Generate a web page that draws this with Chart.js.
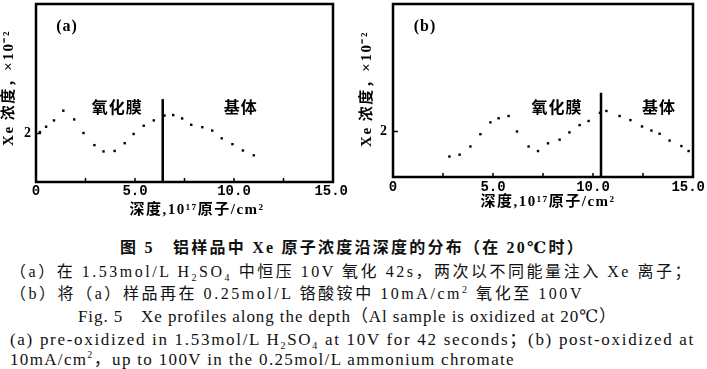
<!DOCTYPE html>
<html>
<head>
<meta charset="utf-8">
<script src="https://cdn.jsdelivr.net/npm/chart.js@4.4.0/dist/chart.umd.min.js"></script>
<style>
html, body { margin: 0; padding: 0; background: #fff; width: 707px; height: 369px; overflow: hidden; }
#wrapA { position: absolute; left: 0; top: 0; width: 350px; height: 225px; }
#wrapB { position: absolute; left: 350px; top: 0; width: 357px; height: 225px; }
.cap { position: absolute; white-space: nowrap; color: #111; line-height: 20px;
       font-family: 'Liberation Serif', 'DejaVu Serif', 'Noto Sans CJK SC', serif; font-size: 16px; }
.en { font-size: 17px; }
sub, sup { font-size: 10px; line-height: 0; }
</style>
</head>
<body>
<div id="wrapA"><canvas id="chartA"></canvas></div>
<div id="wrapB"><canvas id="chartB"></canvas></div>

<div class="cap" data-l="120" data-r="585" data-y="248" style="font-weight:bold">图 5　铝样品中 Xe 原子浓度沿深度的分布（在 20℃时）</div>
<div class="cap" data-l="10" data-r="693" data-y="272">（a）在 1.53mol/L H<sub>2</sub>SO<sub>4</sub> 中恒压 10V 氧化 42s，两次以不同能量注入 Xe 离子；</div>
<div class="cap" data-l="10" data-r="584" data-y="294">（b）将（a）样品再在 0.25mol/L 铬酸铵中 10mA/cm<sup>2</sup> 氧化至 100V</div>
<div class="cap en" data-l="78" data-r="617" data-y="317">Fig. 5　Xe profiles along the depth（Al sample is oxidized at 20℃）</div>
<div class="cap en" data-l="10" data-r="695" data-y="340">(a) pre-oxidized in 1.53mol/L H<sub>2</sub>SO<sub>4</sub> at 10V for 42 seconds；(b) post-oxidized at</div>
<div class="cap en" data-l="10" data-r="515" data-y="360">10mA/cm<sup>2</sup>，up to 100V in the 0.25mol/L ammonium chromate</div>

<script>
// (a) pre-oxidized sample: depth (10^17 atoms/cm2) and Xe concentration (x10^-2)
const depthA = [0.2, 0.51, 0.91, 1.38, 1.93, 2.40, 2.95, 3.41, 3.97, 4.48, 4.93, 5.44, 5.95,
                6.49, 6.93, 7.38, 7.84, 8.40, 8.90, 9.38, 9.92, 10.45, 11.0];
const xeA = [2.03, 2.14, 2.27, 2.47, 2.29, 2.01, 1.76, 1.63, 1.64, 1.80, 1.99, 2.16, 2.27,
             2.37, 2.38, 2.31, 2.18, 2.13, 2.06, 1.90, 1.78, 1.65, 1.55];
// oxide / metal interface in (a)
const interfaceDepthA = [6.4, 6.4];
const interfaceXeA = [1.0, 2.71];

// (b) post-oxidized sample
const depthB = [2.82, 3.33, 3.87, 4.37, 4.87, 5.28, 5.78, 6.20, 6.78, 7.25, 7.75, 8.33, 8.82,
                9.33, 9.78, 10.35, 10.67, 11.33, 11.87, 12.45, 12.92, 13.33, 13.83, 14.42, 14.78];
const xeB = [1.45, 1.49, 1.67, 1.94, 2.20, 2.29, 2.34, 2.00, 1.67, 1.57, 1.74, 1.82, 1.98,
             2.14, 2.23, 2.41, 2.45, 2.34, 2.25, 2.11, 2.02, 1.95, 1.80, 1.68, 1.57];
const interfaceDepthB = [10.4, 10.4];
const interfaceXeB = [1.0, 2.85];

// axis ticks
const xTickValues = [0, 5, 10, 15];
const xTickLabels = ['0', '5.0', '10.0', '15.0'];
const xMinorTicks = [2.5, 5, 7.5, 10, 12.5];
const yTickValues = [2];
const yTickLabels = ['2'];

const CJK = "'Liberation Serif', 'Noto Sans CJK SC', serif";

// Draw frame, inward ticks, tick labels and the paper's text labels
const paperPlugin = {
    id: 'paper',
    afterDraw(chart, args, opts) {
        const { ctx, chartArea: a } = chart;
        const x = chart.scales.x, y = chart.scales.y;
        ctx.save();
        ctx.strokeStyle = '#000';
        ctx.fillStyle = '#000';

        // box
        ctx.lineWidth = 2.5;
        ctx.strokeRect(a.left, a.top, a.right - a.left, a.bottom - a.top);

        // small inward ticks
        ctx.lineWidth = 1.5;
        ctx.beginPath();
        xMinorTicks.forEach(v => {
            const px = x.getPixelForValue(v);
            ctx.moveTo(px, a.bottom);
            ctx.lineTo(px, a.bottom - 4);
        });
        yTickValues.forEach(v => {
            const py = y.getPixelForValue(v);
            ctx.moveTo(a.left, py);
            ctx.lineTo(a.left + 5, py);
        });
        ctx.stroke();

        // x tick labels
        ctx.font = "bold 14px 'Liberation Mono', monospace";
        ctx.textAlign = 'center';
        ctx.textBaseline = 'middle';
        xTickValues.forEach((v, i) => {
            const w = ctx.measureText(xTickLabels[i]).width;
            let px = x.getPixelForValue(v);
            px = Math.min(px, chart.width - w / 2 - 2);
            ctx.fillText(xTickLabels[i], px, a.bottom + opts.xTickGap);
        });

        // y tick labels
        ctx.font = "bold 14px 'Liberation Serif', serif";
        ctx.textAlign = 'right';
        yTickValues.forEach((v, i) => {
            ctx.fillText(yTickLabels[i], a.left - opts.yTickGap, y.getPixelForValue(v));
        });

        // axis titles
        ctx.font = 'bold 15px ' + CJK;
        ctx.letterSpacing = '1.5px';
        ctx.textAlign = 'center';
        ctx.fillText('深度,10¹⁷原子/cm²', opts.xTitle[0], opts.xTitle[1]);

        ctx.save();
        ctx.translate(opts.yTitle[0], opts.yTitle[1]);
        ctx.rotate(-Math.PI / 2);
        ctx.font = 'bold 15px ' + CJK;
        ctx.fillText('Xe 浓度，×10⁻²', 0, 0);
        ctx.restore();

        // panel letter and region names
        opts.labels.forEach(l => {
            ctx.font = l.font;
            ctx.letterSpacing = l.spacing || '0px';
            ctx.fillText(l.text, x.getPixelForValue(l.x), y.getPixelForValue(l.y));
        });
        ctx.restore();
    }
};

function makeChart(id, depth, xe, lineDepth, lineXe, yMax, padding, paper) {
    return new Chart(document.getElementById(id), {
        type: 'scatter',
        data: {
            datasets: [{
                data: depth.map((d, i) => ({ x: d, y: xe[i] })),
                pointStyle: 'rect',
                pointRadius: 1.7,
                backgroundColor: '#000',
                borderColor: '#000',
                borderWidth: 0
            }, {
                data: lineDepth.map((d, i) => ({ x: d, y: lineXe[i] })),
                showLine: true,
                borderColor: '#000',
                borderWidth: 2.5,
                pointRadius: 0
            }]
        },
        options: {
            responsive: true,
            maintainAspectRatio: false,
            animation: false,
            layout: { padding: padding },
            scales: {
                x: { type: 'linear', min: 0, max: 15, display: false },
                y: { type: 'linear', min: 1, max: yMax, display: false }
            },
            plugins: {
                legend: { display: false },
                tooltip: { enabled: false },
                paper: paper
            }
        },
        plugins: [paperPlugin]
    });
}

makeChart('chartA', depthA, xeA, interfaceDepthA, interfaceXeA, 4.67,
    { left: 36, right: 17, top: 2, bottom: 43 },
    {
        xTickGap: 9, yTickGap: 5,
        xTitle: [197, 210], yTitle: [9, 88],
        labels: [
            { text: '(a)', x: 1.57, y: 4.2, font: "bold 16px 'Liberation Serif', serif", spacing: '1px' },
            { text: '氧化膜', x: 4.1, y: 2.51, font: 'bold 16px ' + CJK, spacing: '1px' },
            { text: '基体', x: 10.34, y: 2.51, font: 'bold 16px ' + CJK, spacing: '1px' }
        ]
    });

makeChart('chartB', depthB, xeB, interfaceDepthB, interfaceXeB, 4.80,
    { left: 43, right: 14, top: 2, bottom: 48 },
    {
        xTickGap: 10, yTickGap: 6,
        xTitle: [198, 202], yTitle: [17, 89],
        labels: [
            { text: '(b)', x: 1.6, y: 4.3, font: "bold 16px 'Liberation Serif', serif", spacing: '1px' },
            { text: '氧化膜', x: 8.2, y: 2.49, font: 'bold 16px ' + CJK, spacing: '1px' },
            { text: '基体', x: 13.3, y: 2.49, font: 'bold 16px ' + CJK, spacing: '1px' }
        ]
    });

// Fit each caption line to the span it has in the printed figure
document.querySelectorAll('.cap').forEach(el => {
    const l = +el.dataset.l, r = +el.dataset.r, yc = +el.dataset.y;
    el.style.left = l + 'px';
    el.style.top = (yc - 10) + 'px';
    const w = el.getBoundingClientRect().width;
    const n = el.textContent.length;
    el.style.letterSpacing = ((r - l - w) / n) + 'px';
});
</script>
</body>
</html>
